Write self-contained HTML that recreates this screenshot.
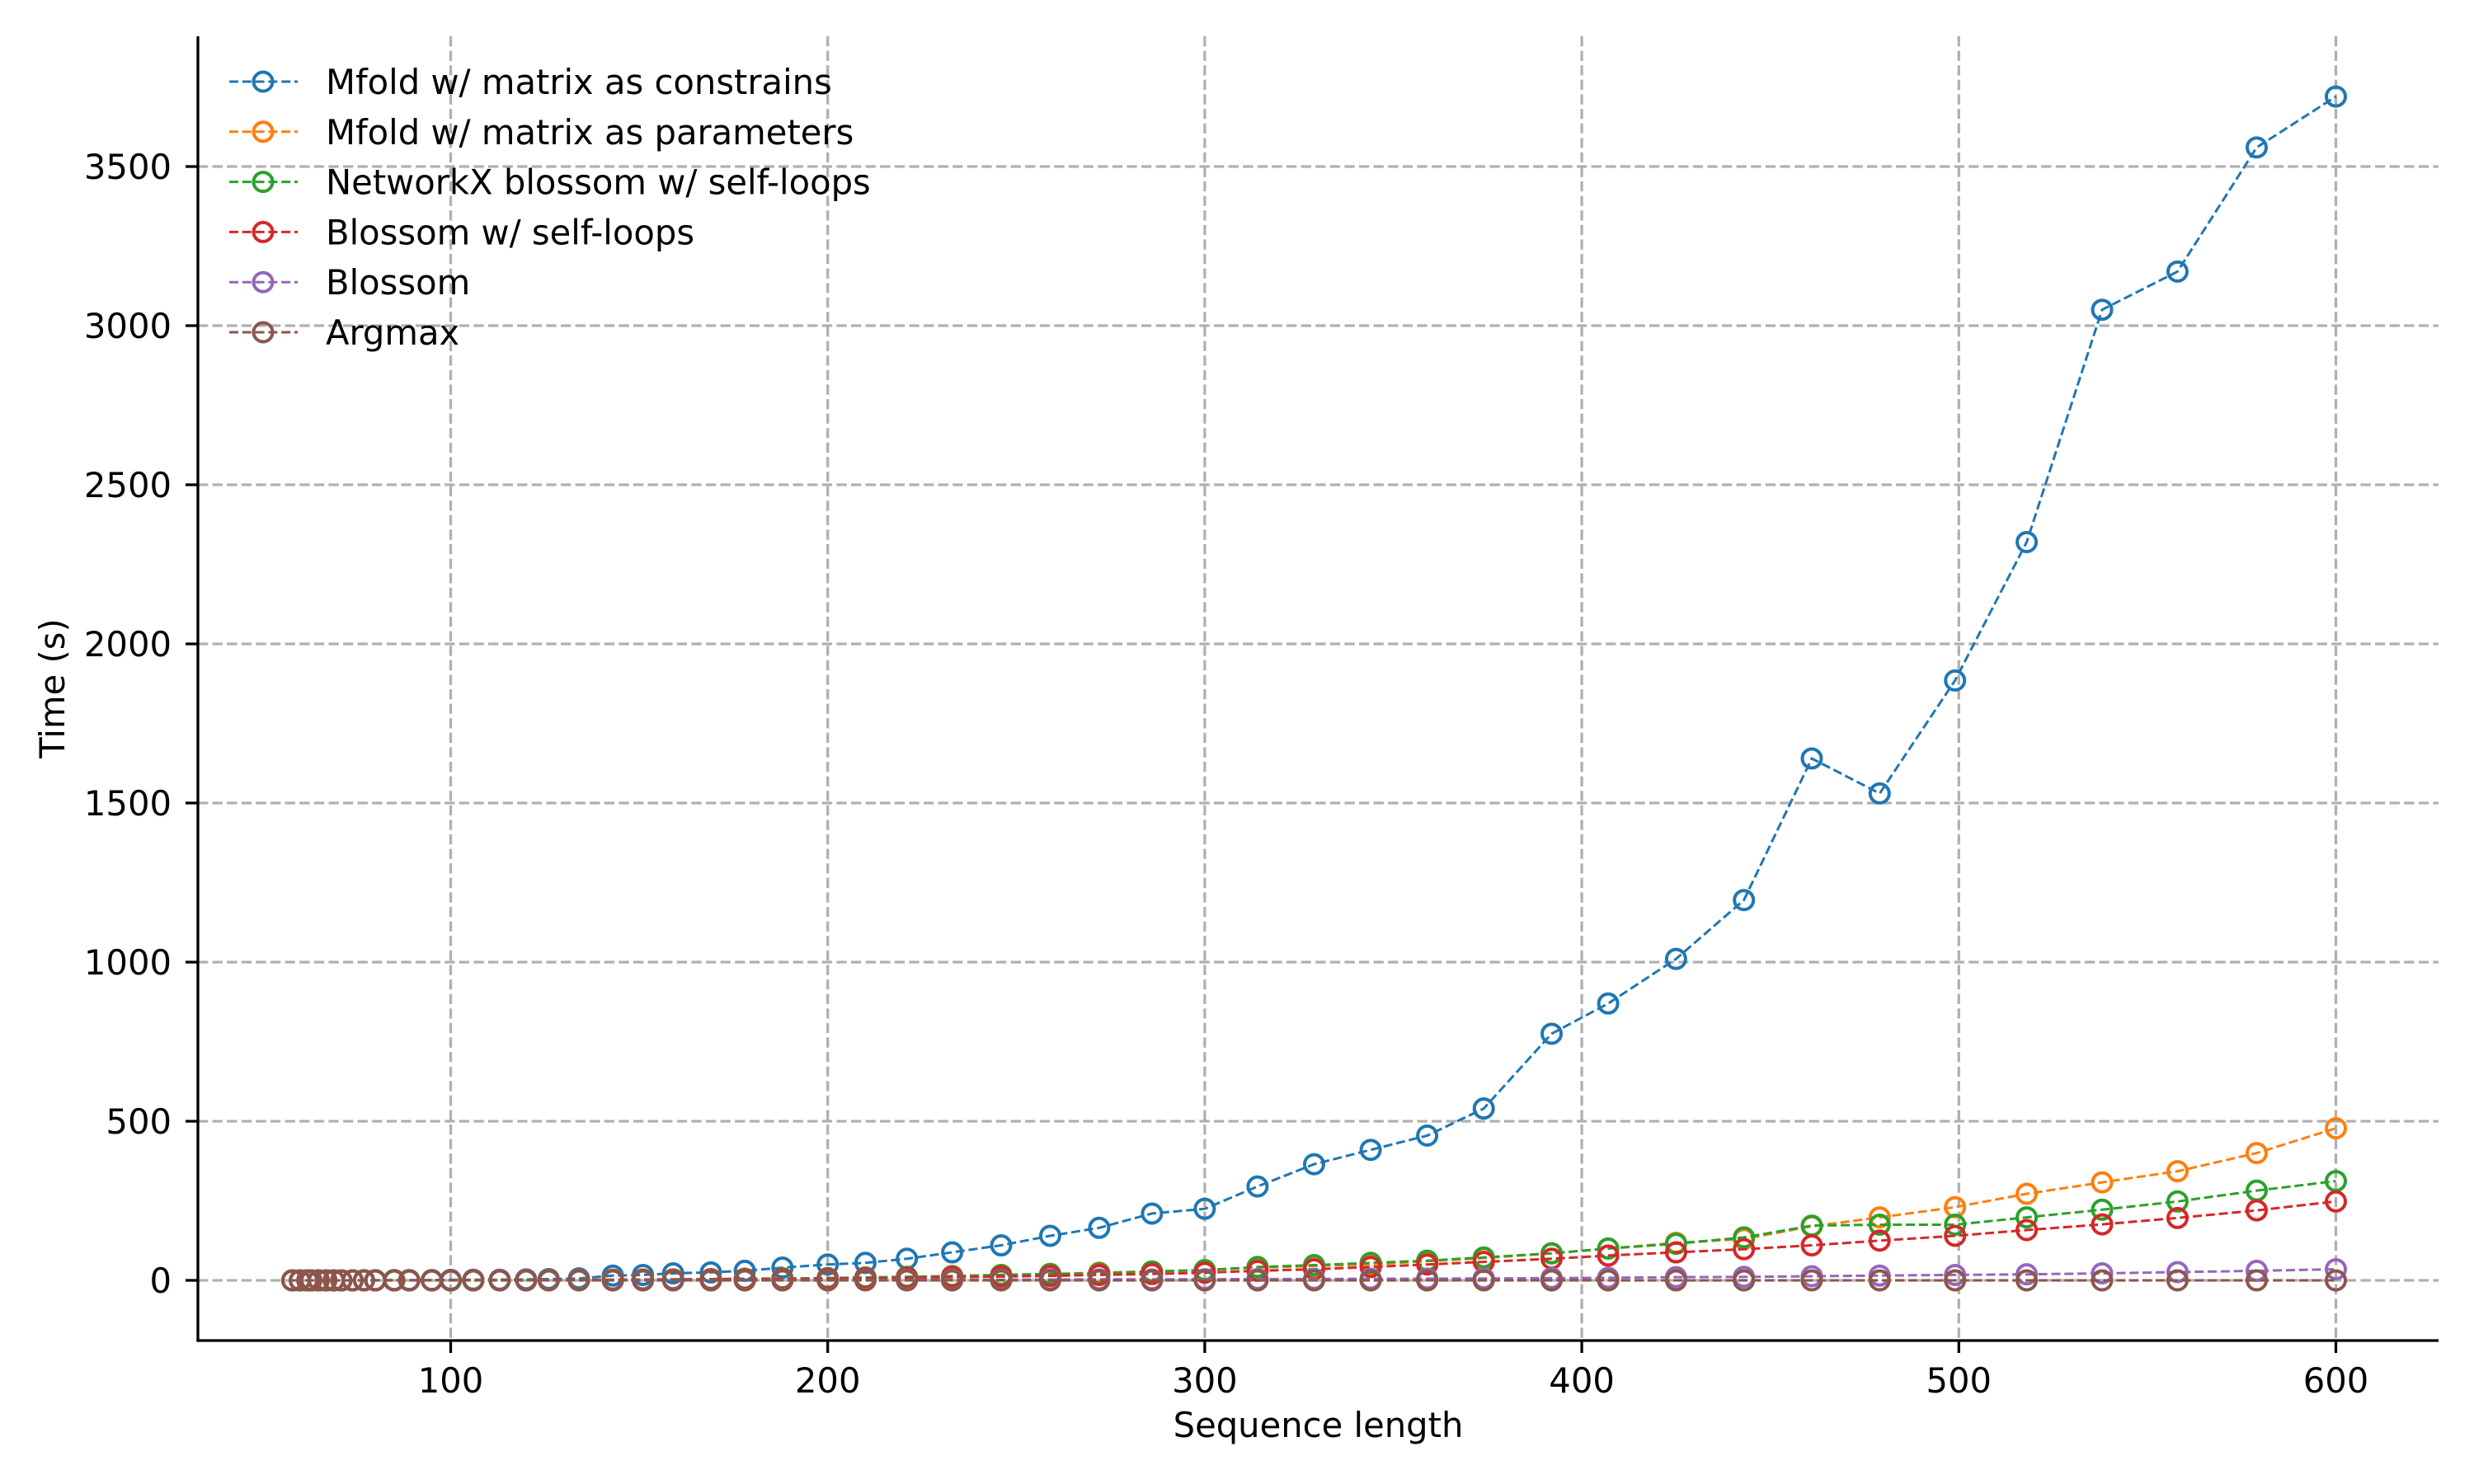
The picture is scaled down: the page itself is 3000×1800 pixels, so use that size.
<!DOCTYPE html>
<html><head><meta charset="utf-8"><style>
html,body{margin:0;padding:0;background:#fff;}
svg{display:block;font-family:"DejaVu Sans","Liberation Sans",sans-serif;}
</style></head><body>
<svg id="chart" width="3000" height="1800" viewBox="0 0 3000 1800" xmlns="http://www.w3.org/2000/svg">
<rect width="3000" height="1800" fill="#fff"/>
<g id="grid"></g>
<g id="series"></g>
<g id="axes"></g>
<g id="legend"></g>
</svg>
<script>
const xVals = [58,60,62,63,65,67,69,71,74,77,80,85,89,95,100,106,113,120,126,134,143,151,159,169,178,188,200,210,221,233,246,259,272,286,300,314,329,344,359,374,392,407,425,443,461,479,499,518,538,558,579,600];
const mfoldConstrains = [0,0,0,0,0,0,0,0,0,0.5,0.5,1,1,1,1.5,2,2,3,4,6,15,17,22,25,30,40,50,55,68,88,110,140,165,210,225,295,365,410,455,540,775,870,1010,1195,1640,1530,1885,2320,3050,3170,3560,3720];
const mfoldParams = [0,0,0,0,0,0,0,0,0,0,0,0,0,0,0,0.5,0.5,1,1,1.5,2,2.5,3,4,5,6,7,9,11,14,17,20,24,28,32,40,45,50,60,70,85,100,118,130,170,198,230,272,308,343,400,478];
const nxBlossom = [0,0,0,0,0,0,0,0,0,0,0,0,0,0,0,0.5,0.5,1,1,1.5,2,2.5,3,4,5,6,7,9,11,13,17,20,22,28,32,42,48,55,62,72,85,100,115,135,172,175,175,198,222,248,282,312];
const blossomSelf = [0,0,0,0,0,0,0,0,0,0,0,0,0,0,0,0.3,0.4,0.6,0.8,1,1.5,2,2.5,3,3.5,4,5,6,8,10,12,14,17,20,24,30,35,42,50,58,68,78,88,98,110,125,140,158,176,196,220,248];
const blossom = [0,0,0,0,0,0,0,0,0,0,0,0,0,0,0,0.1,0.1,0.2,0.2,0.3,0.3,0.4,0.5,0.6,0.7,0.8,0.9,1,1.5,2,2,2.5,3,3,3.5,4,4.5,5,5.5,6,7,8,10,11,13,15,17,19,22,26,30,35];
const argmax = [0,0,0,0,0,0,0,0,0,0,0,0,0,0,0,0,0,0,0,0,0,0,0,0,0,0,0,0,0,0,0,0,0,0,0,0,0,0,0,0,0,0,0,0,0,0,0,0,0,0,0,0];
const seriesNames = ["Mfold w/ matrix as constrains","Mfold w/ matrix as parameters","NetworkX blossom w/ self-loops","Blossom w/ self-loops","Blossom","Argmax"];
const seriesColors = ["#1f77b4","#ff7f0e","#2ca02c","#d62728","#9467bd","#8c564b"];
const seriesData = [mfoldConstrains,mfoldParams,nxBlossom,blossomSelf,blossom,argmax];
const xTicks = [100,200,300,400,500,600];
const yTicks = [0,500,1000,1500,2000,2500,3000,3500];

const NS="http://www.w3.org/2000/svg";
const L=240,R=2957,T=44,B=1626;
function sx(v){return 546.5+(v-100)*4.572;}
function sy(v){return 1553-v*0.386;}
function mk(tag,attrs,parent){const e=document.createElementNS(NS,tag);for(const k in attrs)e.setAttribute(k,attrs[k]);parent.appendChild(e);return e;}
const grid=document.getElementById('grid'),axes=document.getElementById('axes'),ser=document.getElementById('series'),leg=document.getElementById('legend');

xTicks.forEach(t=>{
  const g=mk('line',{x1:sx(t),x2:sx(t),y1:T,y2:B,stroke:'#b0b0b0','stroke-width':3.3,'stroke-dasharray':'12.3,5.3'},grid);
  
  
  const tk=mk('line',{x1:sx(t),x2:sx(t),y1:B,y2:B+15,stroke:'#000','stroke-width':3.3},axes);
  
  
  const tx=mk('text',{x:sx(t),y:B+63,'font-size':41.7,'text-anchor':'middle',fill:'#000'},axes);
  tx.textContent=t;
  
  
});
yTicks.forEach(t=>{
  const g=mk('line',{x1:L,x2:R,y1:sy(t),y2:sy(t),stroke:'#b0b0b0','stroke-width':3.3,'stroke-dasharray':'12.3,5.3'},grid);
  
  
  const tk=mk('line',{x1:L-15,x2:L,y1:sy(t),y2:sy(t),stroke:'#000','stroke-width':3.3},axes);
  
  
  const tx=mk('text',{x:208,y:sy(t)+15,'font-size':41.7,'text-anchor':'end',fill:'#000'},axes);
  tx.textContent=t;
  
  
});
const sl=mk('line',{x1:L,x2:L,y1:T,y2:B+1.6,stroke:'#000','stroke-width':3.3},axes);


const sb=mk('line',{x1:L-1.6,x2:R,y1:B,y2:B,stroke:'#000','stroke-width':3.3},axes);


const xt=mk('text',{x:(L+R)/2,y:1743,'font-size':41.7,'text-anchor':'middle',fill:'#000'},axes);
xt.textContent='Sequence length';


const yt=mk('text',{x:0,y:0,'font-size':41.7,'text-anchor':'middle',fill:'#000',transform:'translate(78,835) rotate(-90)'},axes);
yt.textContent='Time (s)';



seriesData.forEach((d,i)=>{
  const c=seriesColors[i];
  const g=mk('g',{},ser);
  
  
  const pts=xVals.map((x,j)=>sx(x).toFixed(1)+','+sy(d[j]).toFixed(1)).join(' ');
  const pl=mk('polyline',{points:pts,fill:'none',stroke:c,'stroke-width':3,'stroke-dasharray':'11,4.8'},g);
  
  
  xVals.forEach((x,j)=>{
    const m=mk('circle',{cx:sx(x),cy:sy(d[j]),r:11.5,fill:'none',stroke:c,'stroke-width':4},g);
    
    
  });
});

seriesNames.forEach((n,i)=>{
  const y=99+i*60.8,c=seriesColors[i];
  const g=mk('g',{},leg);
  
  
  mk('line',{x1:278,x2:361,y1:y,y2:y,stroke:c,'stroke-width':3,'stroke-dasharray':'11,4.8'},g);
  mk('circle',{cx:319,cy:y,r:11.5,fill:'none',stroke:c,'stroke-width':4},g);
  const t=mk('text',{x:395,y:y+15,'font-size':41.7,fill:'#000'},g);
  t.textContent=n;
});
</script>
</body></html>
